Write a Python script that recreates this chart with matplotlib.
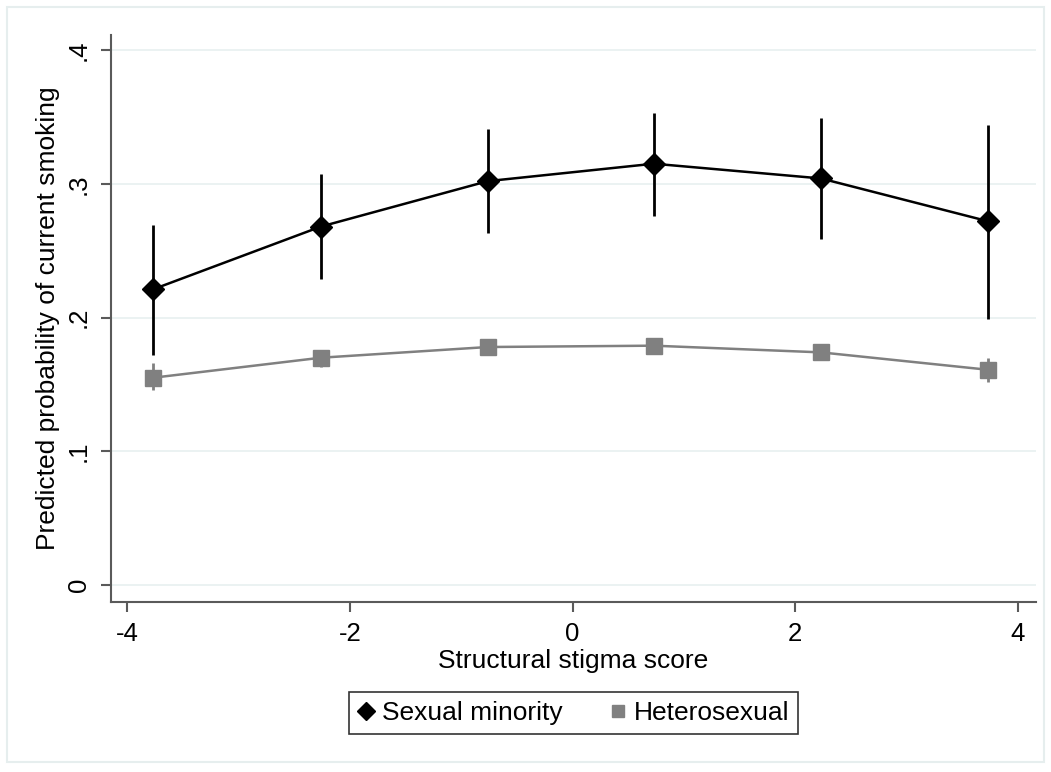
import matplotlib.pyplot as plt
from matplotlib.patches import Rectangle

plt.rcParams['font.family'] = ['Liberation Sans', 'DejaVu Sans']

# structural stigma score positions
stigma = [-3.77, -2.26, -0.76, 0.73, 2.23, 3.73]

# sexual minority: predicted probability and 95% CI
sm_prob = [0.221, 0.268, 0.302, 0.315, 0.304, 0.272]
sm_lo = [0.172, 0.229, 0.263, 0.276, 0.259, 0.199]
sm_hi = [0.269, 0.307, 0.341, 0.353, 0.349, 0.344]

# heterosexual
het_prob = [0.155, 0.170, 0.178, 0.179, 0.174, 0.161]
het_lo = [0.146, 0.163, 0.172, 0.173, 0.168, 0.152]
het_hi = [0.166, 0.176, 0.184, 0.185, 0.180, 0.170]

yticks = [0, 0.1, 0.2, 0.3, 0.4]
ytick_labels = ['0', '.1', '.2', '.3', '.4']
xticks = [-4, -2, 0, 2, 4]

fig = plt.figure(figsize=(10.51, 7.72), dpi=100)
ax = fig.add_axes([0.1056, 0.22, 0.88, 0.735])

# outer frame
fig.patches.append(Rectangle((0.007, 0.013), 0.986, 0.978, transform=fig.transFigure,
                             fill=False, edgecolor='#e6eeee', linewidth=1.5))

for y in yticks:
    ax.axhline(y, color='#e8f0f0', linewidth=1.2, zorder=0)

ax.vlines(stigma, sm_lo, sm_hi, color='black', linewidth=2, zorder=2)
ax.vlines(stigma, het_lo, het_hi, color='#808080', linewidth=2, zorder=2)
ax.plot(stigma, sm_prob, color='black', linewidth=1.8, marker='D', markersize=11,
        label='Sexual minority', zorder=3)
ax.plot(stigma, het_prob, color='#808080', linewidth=1.8, marker='s', markersize=11,
        label='Heterosexual', zorder=3)

ax.set_xlim(-4.144, 4.16)
ax.set_ylim(-0.0127, 0.4114)
ax.set_xticks(xticks)
ax.set_xticklabels([str(x) for x in xticks])
ax.set_yticks(yticks)
ax.set_yticklabels(ytick_labels, rotation=90, va='center')

for side in ['top', 'right']:
    ax.spines[side].set_visible(False)
for side in ['left', 'bottom']:
    ax.spines[side].set_color('#5a5a5a')
    ax.spines[side].set_linewidth(1.5)
ax.tick_params(direction='out', length=7.5, width=1.5, color='#5a5a5a', labelsize=18.5, pad=7)

ax.set_xlabel('Structural stigma score', fontsize=19, labelpad=2)
ax.set_ylabel('Predicted probability of current smoking', fontsize=19, labelpad=5)

leg = ax.legend(loc='upper center', bbox_to_anchor=(0.5, -0.135), ncol=2, fontsize=19,
                frameon=True, fancybox=False, edgecolor='black', handlelength=0.6,
                handletextpad=0.3, columnspacing=1.8, borderpad=0.35, markerscale=0.85)
leg.get_frame().set_linewidth(1.2)
for h in leg.legend_handles:
    h.set_linestyle('none')

fig.savefig('out.png', dpi=100)
